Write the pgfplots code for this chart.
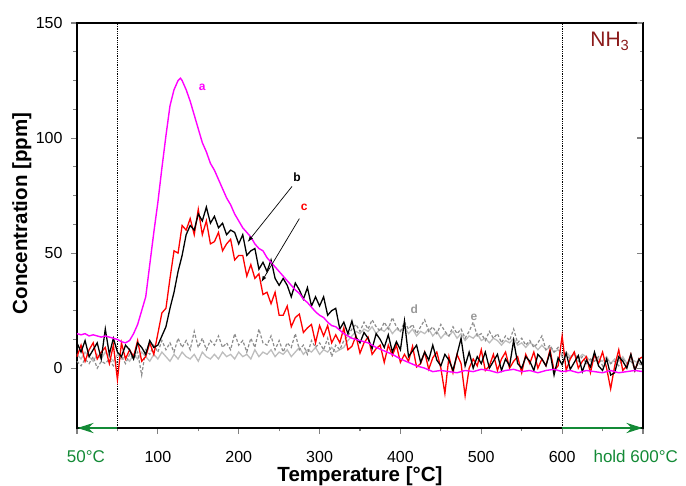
\documentclass[border=0pt]{standalone}
\usepackage{fontspec}
\setmainfont{Liberation Sans}
\usepackage{pgfplots}
\pgfplotsset{compat=1.18}
\usetikzlibrary{arrows.meta}
\definecolor{curvea}{HTML}{FF00FF}
\definecolor{curvec}{HTML}{FF0000}
\definecolor{curved}{HTML}{8C8C8C}
\definecolor{curvee}{HTML}{BDBDBD}
\definecolor{labelgrey}{HTML}{999999}
\definecolor{rampgreen}{HTML}{138A36}
\definecolor{gasred}{HTML}{8B1A1A}

\pgfplotstableread{
x y
0 15
5 14.5
10 15
15 14
20 14.5
25 14
30 13.5
35 14
40 13.5
45 13
50 12.5
55 11.5
60 11
65 12
70 15
75 19
80 25
85 31
90 45
95 59
100 72
105 87
110 101
115 114
120 121
125 125
128 126
130 125
135 121
140 116
145 110
150 104
155 98
160 94
165 89
170 86
175 82
180 78
185 74
190 71
195 67
200 64
205 61
210 59
215 57
220 54
225 52
230 51
235 48
240 46
245 44
250 42
255 40
260 38
265 36
270 34
275 32.5
280 30
285 28.5
290 26.5
295 24.5
300 23
305 22
310 20
315 18.5
320 18
325 16.5
330 15
335 14
340 13
350 12
360 11
370 9
380 7.5
390 6
400 4
410 2.5
420 1
430 0
440 -1.5
450 -1
460 -1.5
470 -2
480 -1
490 -1.5
500 -0.5
510 -1
520 -2
530 -1
540 -0.5
550 -1.5
560 -1
570 -2
580 -1
590 -0.5
600 -1.5
610 -1
620 -2
630 -1
640 -1.5
650 -2
660 -1
670 -2
680 -1.5
690 -1
700 -1.5
}\curveA

\pgfplotstableread{
x y
0 11
5 7
10 12
15 5
20 8
25 11
30 4
35 17
40 6
45 13
50 7
55 5
60 10
65 8
70 4
75 11
80 9
85 6
90 12
95 9
100 10
105 14
110 18
115 26
120 33
125 42
130 49
135 58
140 62
145 60
150 67
155 64
160 70
165 63
170 66
175 61
180 63
185 58
190 60
195 59
200 54
205 58
210 49
215 51
220 52
225 43
230 46
235 42
240 47
245 39
250 36
255 39
260 36
265 31
270 37
275 34
280 30
285 35
290 27
295 31
300 27
305 31
310 23
315 25
320 26
325 17
330 20
335 15
340 20.5
345 13.5
350 11
355 15.5
360 13
365 8.5
370 15
375 12.5
380 9
385 14.5
390 7
395 11.5
400 8
405 20.5
410 5
415 7.5
420 10
425 2.5
430 7
435 3.5
440 10
445 3.5
450 1
455 6
460 3.5
465 -1
470 6
475 13
480 1
485 7
490 0
495 5
500 2
505 7
510 0
515 3
520 6
525 -1
530 4
535 1
540 12
545 2
550 0
555 5
560 3
565 -1
570 6
575 4
580 1
585 7
590 -3
595 4.5
600 1.5
605 6.5
610 -0.5
615 2.5
620 5.5
625 -1.5
630 3.5
635 0.5
640 7
645 1
650 -1
655 4
660 -3
665 -2
670 5
675 3
680 0
685 6
690 -1
695 4
700 1
}\curveB

\pgfplotstableread{
x y
0 5
5 10
10 3
15 8
20 11
25 4
30 7
35 9
40 2
45 10
50 -5
55 11
60 4
65 8
70 5
75 12
80 3
85 5
90 11
95 6
100 15
105 24
110 26
115 39
120 51
125 50
130 62
135 60
140 65
145 58
150 69
155 58
160 64
165 54
170 55
175 59
180 51
185 54
190 56
195 47
200 49
205 49
210 40
215 45
220 39
225 41
230 32
235 33
240 28
245 33
250 23
255 23
260 27
265 18
270 22
275 23.5
280 15.5
285 17.5
290 19
295 11
300 18.5
305 14
310 18.5
315 11
320 14.5
325 11
330 17.5
335 8
340 9.5
345 14
350 6.5
355 11
360 13.5
365 6
370 8.5
375 10
380 2.5
385 10
390 5.5
395 10
400 2.5
405 6
410 3
415 9.5
420 0.5
425 2
430 7
435 -0.5
440 4.5
445 7
450 0
455 -11
460 5
465 -2
470 6
475 2
480 -12
485 0
490 4
495 1
500 8
505 -1
510 1
515 6
520 -1
525 4
530 7
535 0
540 3
545 5
550 -2
555 6
560 2
565 7
570 0
575 4
580 1
585 8
590 -1
595 1
600 14
605 -1
610 4
615 7
620 0
625 3
630 5
635 -2
640 6
645 2
650 7
655 0
660 -9
665 1
670 8
675 -1
680 1
685 6
690 -1
695 4
700 5
}\curveC

\pgfplotstableread{
x y
0 3
5 1
10 4
15 2
20 5
25 0
30 3
35 2
40 4
45 1
50 3
55 5
60 2
65 6
70 4
75 7
80 -3
85 8
90 6
95 10
100 7
105 12
110 8
115 11
120 7
125 13
130 9
135 12
140 8
145 16
150 9
155 13
160 8
165 12
170 10
175 14
180 9
185 11
190 8
195 15
200 10
205 12
210 7
215 13
220 9
225 17
230 11
235 10
240 14
245 8
250 12
255 7
260 11
265 9
270 15
275 8
280 10
285 6
290 12
295 9
300 11
305 8
310 13
315 5
320 10
325 8
330 12
335 14
340 17
345 19
350 16
355 20
360 17
365 21
370 18
375 16
380 20
385 17
390 22
395 18
400 16
405 20
410 17
415 19
420 15
425 18
430 21
435 16
440 18
445 15
450 19
455 16
460 14
465 18
470 15
475 17
480 13
485 16
490 20
495 14
500 15
505 12
510 16
515 13
520 15
525 11
530 14
535 12
540 17
545 11
550 13
555 10
560 12
565 9
570 11
575 14
580 8
585 10
590 7
595 9
600 5
605 6
610 4
615 7
620 3
625 5
630 2
635 4
640 3
645 5
650 1
655 4
660 2
665 3
670 1
675 4
680 2
685 3
690 0
695 2
700 1
}\curveD

\pgfplotstableread{
x y
0 6
5 4
10 7
15 5
20 3
25 6
30 4
35 7
40 5
45 3
50 6
55 4
60 5
65 3
70 6
75 4
80 7
85 5
90 3
95 6
100 4
105 7
110 5
115 3
120 6
125 4
130 7
135 5
140 4
145 6
150 3
155 7
160 5
165 4
170 6
175 4
180 7
185 5
190 6
195 4
200 7
205 5
210 6
215 4
220 8
225 5
230 7
235 6
240 8
245 5
250 7
255 6
260 8
265 5
270 7
275 9
280 6
285 8
290 7
295 9
300 6
305 8
310 7
315 9
320 7
325 8
330 9
335 12
340 14
345 16
350 15
355 17
360 16
365 18
370 15
375 17
380 16
385 18
390 15
395 17
400 16
405 18
410 15
415 17
420 14
425 16
430 15
435 17
440 14
445 16
450 13
455 15
460 14
465 16
470 13
475 15
480 12
485 14
490 13
495 15
500 12
505 13
510 11
515 13
520 12
525 10
530 12
535 11
540 13
545 10
550 11
555 9
560 11
565 10
570 8
575 10
580 8
585 9
590 7
595 8
600 6
605 7
610 5
615 6
620 4
625 6
630 5
635 3
640 5
645 4
650 3
655 5
660 2
665 4
670 3
675 5
680 2
685 4
690 3
695 2
700 3
}\curveE

\begin{document}
\begin{tikzpicture}
\pgfplotsset{
  base/.style={scale only axis,width=566pt,height=405pt,
    xmin=0,xmax=700,ymin=-26,ymax=150,
    /pgf/number format/assume math mode=true,
    tick label style={font=\fontsize{16}{16}\selectfont},
    axis line style={line width=1.2pt},
    major tick style={line width=1.1pt},
    minor tick style={line width=1.1pt},
    major tick length=6pt,minor tick length=3.5pt}}
\begin{axis}[base,
  clip=false,
  tick align=outside,
  xtick pos=bottom,ytick pos=left,
  xtick={0,100,200,300,400,500,600,700},
  xticklabels={,100,200,300,400,500,600,},
  minor xtick={50,150,250,350,450,550,650},
  ytick={0,50,100,150},minor y tick num=3,
  xticklabel style={yshift=-14pt},
  yticklabel style={xshift=-5pt},
  xlabel={Temperature [°C]},
  ylabel={Concentration [ppm]},
  label style={font=\fontsize{20.5}{20.5}\selectfont\bfseries},
  xlabel style={at={(axis description cs:0.5,-0.1321)},anchor=base},
  ylabel style={at={(axis description cs:-0.0883,0.5296)},anchor=base},
  ]
\coordinate (sw) at (rel axis cs:0,0);
\draw[densely dotted,line width=0.8pt] (axis cs:50,-26) -- (axis cs:50,150);
\draw[densely dotted,line width=0.8pt] (axis cs:600,-26) -- (axis cs:600,150);
\addplot[curvee,line width=1.3pt] table[x=x,y=y]{\curveE};
\addplot[curved,line width=1.2pt,dash pattern=on 3pt off 2pt] table[x=x,y=y]{\curveD};
\addplot[curvec,line width=1.3pt] table[x=x,y=y]{\curveC};
\addplot[black,line width=1.3pt] table[x=x,y=y]{\curveB};
\addplot[curvea,line width=1.4pt] table[x=x,y=y]{\curveA};
\draw[rampgreen,line width=2.8pt,-{Stealth[length=16pt,width=10pt]}] (axis cs:50,-26) -- (axis cs:0.5,-26);
\draw[rampgreen,line width=2.8pt,-{Stealth[length=16pt,width=10pt]}] (axis cs:600,-26) -- (axis cs:699.5,-26);
\node[rampgreen,font=\fontsize{17}{17}\selectfont,anchor=base] at (axis cs:11,-40.9) {50°C};
\node[rampgreen,font=\fontsize{17}{17}\selectfont,anchor=base] at (axis cs:691,-40.9) {hold 600°C};
\node[gasred,font=\fontsize{21}{21}\selectfont] at (axis cs:659,142) {NH\textsubscript{3}};
\node[curvea,font=\fontsize{12}{12}\selectfont\bfseries] at (axis cs:155,122) {a};
\node[black,font=\fontsize{12}{12}\selectfont\bfseries] at (axis cs:272,83) {b};
\node[curvec,font=\fontsize{12}{12}\selectfont\bfseries] at (axis cs:281,70) {c};
\node[labelgrey,font=\fontsize{12}{12}\selectfont\bfseries] at (axis cs:417,25.6) {d};
\node[labelgrey,font=\fontsize{12}{12}\selectfont\bfseries] at (axis cs:491,22) {e};
\draw[black,line width=0.7pt,-{Latex[length=6pt,width=4pt]}] (axis cs:266,79) -- (axis cs:211,54.8);
\draw[black,line width=0.7pt,-{Latex[length=6pt,width=4pt]}] (axis cs:275,65) -- (axis cs:228,37.4);
\end{axis}
\begin{axis}[base,
  axis x line=none,axis y line*=right,
  tick align=inside,
  ytick={0,50,100,150},minor y tick num=3,
  yticklabels={},
  ]
\end{axis}
\pgfresetboundingbox
\path ([shift={(-77pt,-58pt)}]sw) rectangle ([shift={(609pt,428pt)}]sw);
\end{tikzpicture}
\end{document}
